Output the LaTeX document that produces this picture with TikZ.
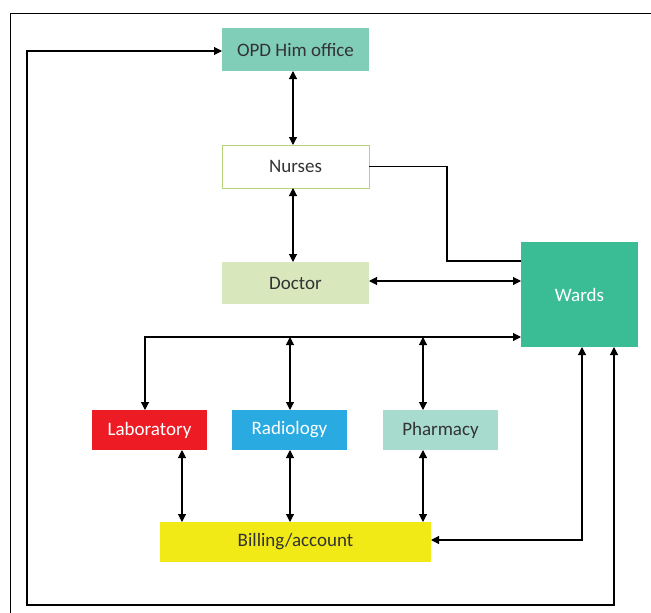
\documentclass[tikz,border=0pt]{standalone}
\usepackage{fontspec}
\setmainfont{Carlito}
\usetikzlibrary{arrows.meta}
\definecolor{opdc}{HTML}{80CDB8}
\definecolor{nursec}{HTML}{B7D37A}
\definecolor{docc}{HTML}{D9E7BD}
\definecolor{wardc}{HTML}{3ABD94}
\definecolor{labc}{HTML}{ED1C24}
\definecolor{radc}{HTML}{29ABE2}
\definecolor{pharc}{HTML}{A6DBCE}
\definecolor{billc}{HTML}{F2EA17}
\definecolor{txtc}{HTML}{333333}
\begin{document}
\begin{tikzpicture}[x=1pt,y=-1pt,
  box/.style={inner sep=0pt, outer sep=0pt, text=txtc, font=\fontsize{19}{22}\selectfont},
  conn/.style={line width=1.1pt, black},
  tip/.style={conn, {Triangle[length=8pt,width=8pt]}-{Triangle[length=8pt,width=8pt]}},
  tipr/.style={conn, -{Triangle[length=8pt,width=8pt]}}]
\useasboundingbox (0,0) rectangle (651,613);
\draw[line width=1pt] (10,613) -- (10,13) -- (651,13);
\node[box, fill=opdc, minimum width=147pt, minimum height=43pt] (opd) at (295.5,49.5) {OPD Him office};
\node[box, fill=white, draw=nursec, line width=1pt, minimum width=147pt, minimum height=43pt] (nur) at (295.5,166.5) {Nurses};
\node[box, fill=docc, minimum width=147pt, minimum height=42pt] (doc) at (295.5,283) {Doctor};
\node[box, fill=wardc, text=white, minimum width=117pt, minimum height=105pt] (ward) at (579.5,294.5) {Wards};
\node[box, fill=labc, text=white, minimum width=115pt, minimum height=40pt] (lab) at (149.5,430) {Laboratory};
\node[box, fill=radc, text=white, minimum width=115pt, minimum height=40pt] (rad) at (289.5,430) {Radiology};
\node[box, fill=pharc, minimum width=115pt, minimum height=40pt] (pha) at (440.5,430) {Pharmacy};
\node[box, fill=billc, minimum width=271pt, minimum height=40pt] (bill) at (295.5,542) {Billing/account};
\coordinate (loopbl) at (27,605);
\draw[tip] (opd.south -| 293,0) -- (nur.north -| 293,0);
\draw[tip] (nur.south -| 293,0) -- (doc.north -| 293,0);
\draw[conn] (nur.east) -| (447,261) -- (ward.west |- 0,261);
\draw[tip] (doc.east |- 0,281) -- (ward.west |- 0,281);
\draw[tip] (lab.north -| 145,0) |- (ward.west |- 0,337);
\draw[tip] (rad.north -| 290,0) -- (290,337);
\draw[tip] (pha.north -| 423,0) -- (423,337);
\draw[tip] (lab.south -| 182,0) -- (bill.north -| 182,0);
\draw[tip] (rad.south -| 290,0) -- (bill.north -| 290,0);
\draw[tip] (pha.south -| 423,0) -- (bill.north -| 423,0);
\draw[tip] (ward.south -| 582,0) |- (bill.east |- 0,540);
\draw[tip] (ward.south -| 614,0) |- (loopbl) |- (opd.west |- 0,51);
\end{tikzpicture}
\end{document}
